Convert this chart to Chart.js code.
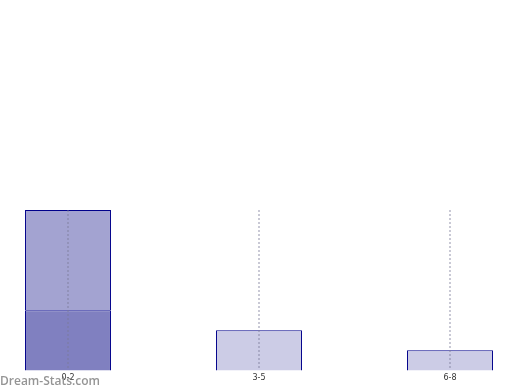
<!DOCTYPE html>
<html>
<head>
<meta charset="utf-8">
<script src="https://cdn.jsdelivr.net/npm/chart.js@4/dist/chart.umd.min.js"></script>
<style>
  html, body { margin: 0; padding: 0; background: #fff; }
  #wrap { position: relative; width: 520px; height: 390px; }
  #mark { position: absolute; left: 0; top: 372px; font: 600 12px "Open Sans", sans-serif; color: #959595; }
</style>
</head>
<body>
<div id="wrap">
  <canvas id="chart" width="520" height="390"></canvas>
  <div id="mark">Dream-Stats.com</div>
</div>
<script>
// ── Data ──────────────────────────────────────
const categories = ['0-2', '3-5', '6-8'];
const lowerSeries = [3, null, null];
const upperSeries = [5, 2, 1];

const BORDER = '#00008b';

new Chart(document.getElementById('chart'), {
  type: 'bar',
  data: {
    labels: categories,
    datasets: [
      {
        data: lowerSeries,
        backgroundColor: '#8080c0',
        borderColor: BORDER,
        borderWidth: 1,
        borderSkipped: 'bottom',
        barPercentage: 0.45,
        categoryPercentage: 1,
        clip: false,
      },
      {
        data: upperSeries,
        backgroundColor: ['#a3a3d1', '#ccccE6', '#ccccE6'],
        borderColor: BORDER,
        borderWidth: 1,
        borderSkipped: 'bottom',
        barPercentage: 0.45,
        categoryPercentage: 1,
        clip: false,
      },
    ],
  },
  options: {
    responsive: false,
    animation: false,
    layout: { padding: { top: 210, left: 68, right: 70, bottom: 4 } },
    plugins: { legend: { display: false }, tooltip: { enabled: false } },
    scales: {
      x: {
        stacked: true,
        offset: false,
        border: { display: false, dash: [2, 2] },
        grid: { offset: false, z: 1, color: 'rgba(120,120,150,0.4)', drawTicks: false, lineWidth: 2 },
        ticks: { color: '#333', font: { size: 8, family: 'DejaVu Sans' }, padding: 3 },
      },
      y: {
        stacked: true,
        display: false,
        min: 0,
        max: 8,
      },
    },
  },
});
</script>
</body>
</html>
